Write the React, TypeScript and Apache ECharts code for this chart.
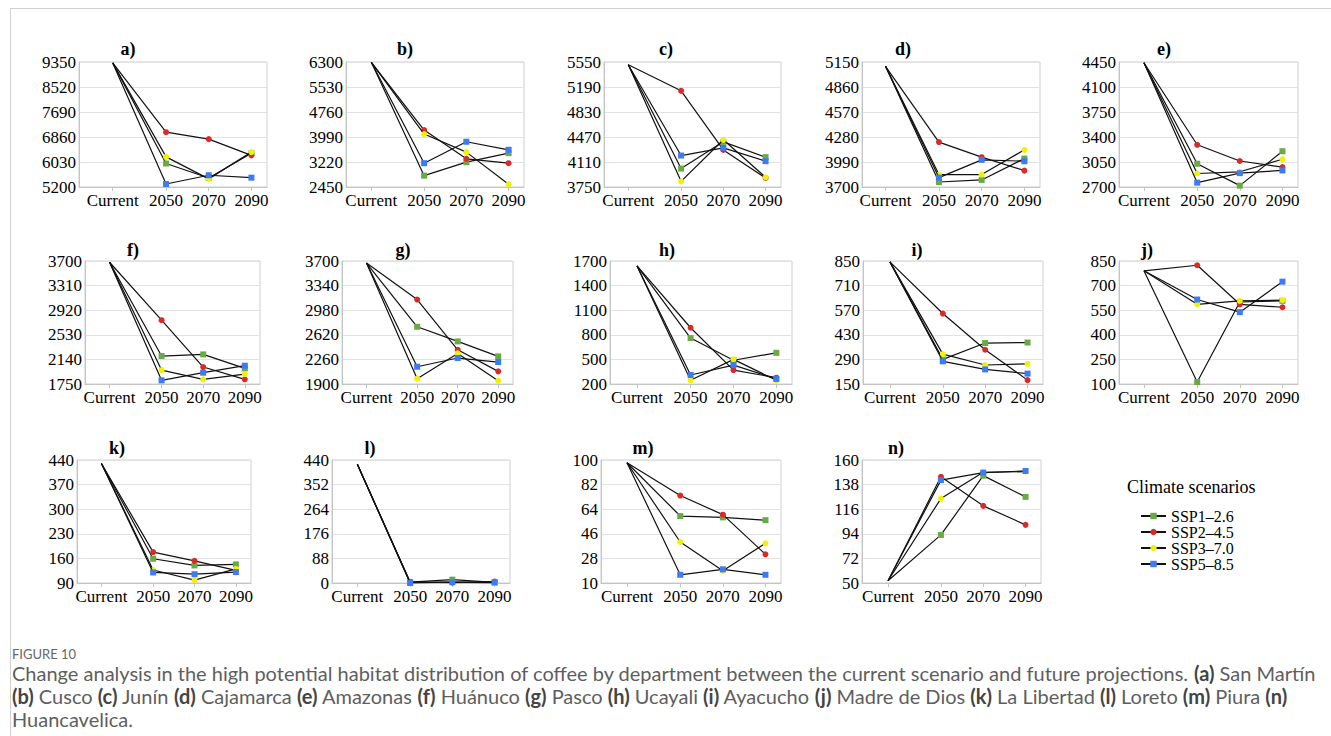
import React, { useEffect, useRef } from 'react';
import * as echarts from 'echarts';

// ---------- data ----------
const periods = ['Current', '2050', '2070', '2090'];
const periodYears = [2025, 2050, 2070, 2090];
const scenarios = ['SSP1–2.6', 'SSP2–4.5', 'SSP3–7.0', 'SSP5–8.5'];
const panelLetters = ['a)', 'b)', 'c)', 'd)', 'e)', 'f)', 'g)', 'h)', 'i)', 'j)', 'k)', 'l)', 'm)', 'n)'];

// values per panel: [Current, 2050, 2070, 2090]
const ssp126 = [
  [9320, 5980, 5500, 6320],
  [6290, 2800, 3214, 3493],
  [5510, 4015, 4400, 4180],
  [5100, 3758, 3782, 4030],
  [4440, 3026, 2719, 3201],
  [3680, 2193, 2219, 1998],
  [3670, 2737, 2523, 2304],
  [1640, 760, 490, 580],
  [845, 290, 383, 386],
  [790, 112, 600, 607],
  [430, 159, 140, 143],
  [425, 3, 12, 2],
  [98, 59, 58, 56],
  [52, 93, 146, 127],
];
const ssp245 = [
  [9320, 7020, 6790, 6250],
  [6290, 4205, 3318, 3183],
  [5510, 5135, 4284, 3880],
  [5100, 4221, 4046, 3890],
  [4440, 3291, 3064, 2979],
  [3680, 2762, 2019, 1824],
  [3670, 3136, 2401, 2085],
  [1640, 886, 370, 277],
  [845, 551, 345, 172],
  [790, 824, 586, 568],
  [430, 178, 153, 126],
  [425, 4, 1, 5],
  [98, 74, 60, 31],
  [52, 145, 119, 102],
];
const ssp370 = [
  [9320, 6200, 5470, 6360],
  [6290, 4081, 3524, 2533],
  [5510, 3832, 4430, 3890],
  [5100, 3844, 3844, 4131],
  [4440, 2889, 2913, 3088],
  [3680, 1971, 1824, 1908],
  [3670, 1978, 2348, 1949],
  [1640, 245, 500, 245],
  [845, 320, 258, 265],
  [790, 586, 607, 611],
  [430, 127, 98, 130],
  [425, 1, 3, 0],
  [98, 40, 19, 39],
  [52, 125.5, 149, 149.6],
];
const ssp585 = [
  [9320, 5300, 5590, 5510],
  [6290, 3183, 3844, 3596],
  [5510, 4203, 4313, 4122],
  [5100, 3809, 4015, 3999],
  [4440, 2761, 2894, 2932],
  [3680, 1808, 1929, 2040],
  [3670, 2153, 2280, 2221],
  [1640, 310, 431, 262],
  [845, 279, 233, 209],
  [790, 615, 538, 724],
  [430, 120, 115, 121],
  [425, 0, 3, 2],
  [98, 16, 20, 16],
  [52, 142, 148.7, 150.2],
];

const yTicks = [
  [5200, 6030, 6860, 7690, 8520, 9350],
  [2450, 3220, 3990, 4760, 5530, 6300],
  [3750, 4110, 4470, 4830, 5190, 5550],
  [3700, 3990, 4280, 4570, 4860, 5150],
  [2700, 3050, 3400, 3750, 4100, 4450],
  [1750, 2140, 2530, 2920, 3310, 3700],
  [1900, 2260, 2620, 2980, 3340, 3700],
  [200, 500, 800, 1100, 1400, 1700],
  [150, 290, 430, 570, 710, 850],
  [100, 250, 400, 550, 700, 850],
  [90, 160, 230, 300, 370, 440],
  [0, 88, 176, 264, 352, 440],
  [10, 28, 46, 64, 82, 100],
  [50, 72, 94, 116, 138, 160],
];

const captionLines = [
  'Change analysis in the high potential habitat distribution of coffee by department between the current scenario and future projections. {b|(a)} San Martín',
  '{b|(b)} Cusco {b|(c)} Junín {b|(d)} Cajamarca {b|(e)} Amazonas {b|(f)} Huánuco {b|(g)} Pasco {b|(h)} Ucayali {b|(i)} Ayacucho {b|(j)} Madre de Dios {b|(k)} La Libertad {b|(l)} Loreto {b|(m)} Piura {b|(n)}',
  'Huancavelica.',
];

// ---------- layout & style ----------
const rowBox = [
  { top: 62, height: 125, titleY: 49 },
  { top: 261, height: 123, titleY: 250 },
  { top: 460, height: 123, titleY: 448 },
];
// [left, right, xMin, titleX]
const panelBox: number[][] = [
  [79, 267, 2009.2, 128],
  [346, 524, 2013.0, 405],
  [604, 781, 2013.5, 666],
  [862, 1040, 2014.0, 903],
  [1119, 1298, 2013.3, 1164],
  [85, 260, 2013.2, 133],
  [342, 513, 2012.9, 403],
  [610, 792, 2012.4, 667],
  [863, 1043, 2012.3, 917],
  [1119, 1298, 2013.3, 1147],
  [77, 251, 2013.2, 117],
  [332, 510, 2013.0, 370],
  [601, 781, 2012.8, 643],
  [862, 1041, 2012.7, 896],
];
const X_MAX = 2097.3;
const SERIF = 'Liberation Serif';
const SANS = 'Lato';
const colors = ['#6aaa45', '#d92a27', '#f2f200', '#3c7bf2'];
const symbols = ['rect', 'circle', 'circle', 'rect'];
const scenarioData = [ssp126, ssp245, ssp370, ssp585];

function buildOption() {
  const grid: any[] = [];
  const xAxis: any[] = [];
  const yAxis: any[] = [];
  const series: any[] = [];
  const graphic: any[] = [];

  panelBox.forEach((b, p) => {
    const row = rowBox[Math.floor(p / 5)];
    const [left, right, xMin, titleX] = b;
    grid.push({
      left,
      top: row.top,
      width: right - left,
      height: row.height,
      show: true,
      borderColor: '#cfcfcf',
      borderWidth: 1,
      backgroundColor: 'transparent',
    });
    xAxis.push({
      gridIndex: p,
      type: 'value',
      min: xMin,
      max: X_MAX,
      axisLine: { show: true, lineStyle: { color: '#c4c4c4', width: 1 } },
      axisTick: { show: true, customValues: periodYears, length: 4, lineStyle: { color: '#c4c4c4' } },
      axisLabel: {
        customValues: periodYears,
        formatter: (v: number) => {
          const i = periodYears.indexOf(v);
          return i >= 0 ? periods[i] : '';
        },
        margin: 5,
        color: '#000',
        fontSize: 17,
        fontFamily: SERIF,
      },
      splitLine: { show: false },
    });
    const t = yTicks[p];
    yAxis.push({
      gridIndex: p,
      type: 'value',
      min: t[0],
      max: t[t.length - 1],
      axisLine: { show: true, lineStyle: { color: '#c4c4c4', width: 1 } },
      axisTick: { show: false, customValues: t },
      axisLabel: {
        customValues: t,
        formatter: (v: number) => String(v),
        margin: 3,
        color: '#000',
        fontSize: 17,
        fontFamily: SERIF,
      },
      splitLine: { show: true, lineStyle: { color: '#e2e2e2', width: 1 } },
    });
    scenarios.forEach((name, s) => {
      const vals = scenarioData[s][p];
      series.push({
        type: 'line',
        name,
        xAxisIndex: p,
        yAxisIndex: p,
        symbol: symbols[s],
        symbolSize: 6,
        showSymbol: true,
        lineStyle: { color: '#111', width: 1.2 },
        itemStyle: { color: colors[s] },
        emphasis: { disabled: true },
        z: 2 + s,
        data: periodYears.map((yr, i) =>
          i === 0 ? { value: [yr, vals[i]], symbol: 'none' } : [yr, vals[i]]
        ),
      });
    });
    graphic.push({
      type: 'text',
      x: titleX,
      y: row.titleY,
      style: {
        text: panelLetters[p],
        fontFamily: SERIF,
        fontSize: 18,
        fontWeight: 'bold',
        fill: '#000',
        align: 'center',
        verticalAlign: 'middle',
      },
    });
  });

  // frame lines
  graphic.push({ type: 'line', shape: { x1: 10.5, y1: 8, x2: 10.5, y2: 736 }, style: { stroke: '#d0d0d0', lineWidth: 1 } });
  graphic.push({ type: 'line', shape: { x1: 10, y1: 8.5, x2: 1331, y2: 8.5 }, style: { stroke: '#d0d0d0', lineWidth: 1 } });

  // legend title
  graphic.push({
    type: 'text',
    x: 1127,
    y: 487,
    style: { text: 'Climate scenarios', fontFamily: SERIF, fontSize: 18, fill: '#000', align: 'left', verticalAlign: 'middle' },
  });

  // caption
  graphic.push({
    type: 'text',
    x: 12,
    y: 654,
    style: { text: 'FIGURE 10', fontFamily: SANS, fontSize: 13, fill: '#666', align: 'left', verticalAlign: 'middle' },
  });
  captionLines.forEach((line, i) => {
    graphic.push({
      type: 'text',
      x: 12,
      y: 673 + i * 23,
      style: {
        text: line,
        fontFamily: SANS,
        fontSize: 20,
        fill: '#5e5e5e',
        align: 'left',
        verticalAlign: 'middle',
        rich: { b: { fontWeight: 'bold', fontSize: 20, fontFamily: SANS, fill: '#444' } },
      },
    });
  });

  return {
    animation: false,
    backgroundColor: '#fff',
    textStyle: { fontFamily: SERIF, fontSize: 17 },
    grid,
    xAxis,
    yAxis,
    series,
    graphic,
    legend: {
      data: scenarios,
      orient: 'vertical',
      left: 1135,
      top: 503,
      itemWidth: 25,
      itemHeight: 8,
      itemGap: 0,
      selectedMode: false,
      textStyle: { fontSize: 16, fontFamily: SERIF, color: '#000' },
    },
  };
}

export default function App() {
  const ref = useRef<HTMLDivElement>(null);
  useEffect(() => {
    const chart = echarts.init(ref.current!, null, { renderer: 'svg' });
    chart.setOption(buildOption() as any);
    return () => chart.dispose();
  }, []);
  return (
    <div
      ref={ref}
      style={{ position: 'absolute', left: 0, top: 0, width: 1331, height: 736, background: '#fff' }}
    />
  );
}
